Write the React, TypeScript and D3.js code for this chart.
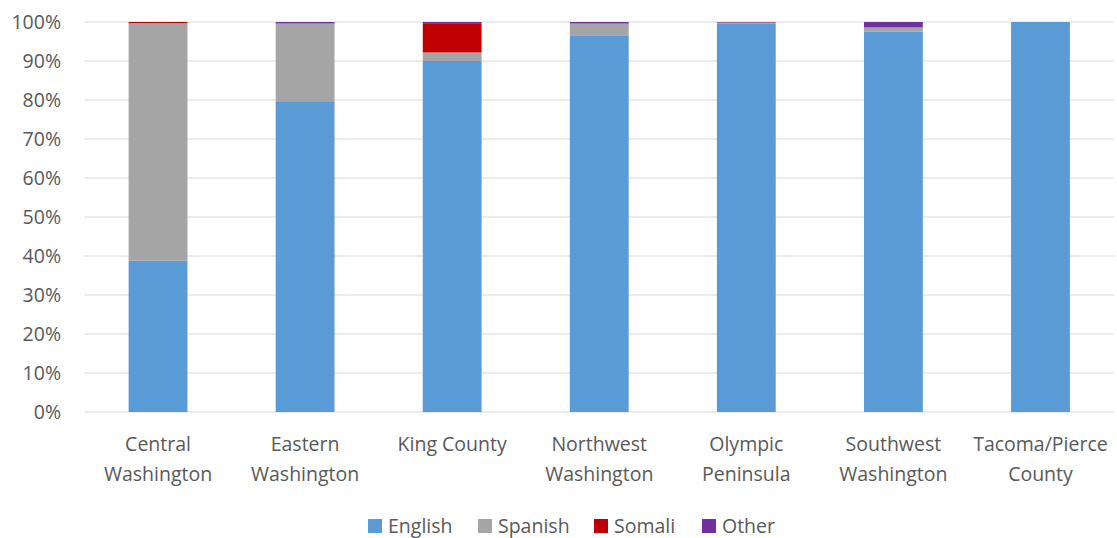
import React from "react";
import * as d3 from "d3";

const categories = [
  ["Central", "Washington"],
  ["Eastern", "Washington"],
  ["King County"],
  ["Northwest", "Washington"],
  ["Olympic", "Peninsula"],
  ["Southwest", "Washington"],
  ["Tacoma/Pierce", "County"],
];
const seriesNames = ["English", "Spanish", "Somali", "Other"];
const seriesColors = ["#5B9BD5", "#A5A5A5", "#C00000", "#7030A0"];
const english = [38.8, 79.7, 90.0, 96.6, 99.5, 97.5, 100];
const spanish = [60.9, 19.9, 2.2, 3.0, 0.3, 1.1, 0];
const somali = [0.3, 0.1, 7.5, 0, 0.1, 0, 0];
const other = [0, 0.3, 0.3, 0.4, 0.1, 1.4, 0];
const yTicks = [0, 10, 20, 30, 40, 50, 60, 70, 80, 90, 100];

const W = 1117;
const H = 538;
const M = { left: 84.5, right: 3, top: 22, bottom: 126 };
const FONT = "'Open Sans', sans-serif";
const TXT = "#595959";
const FS = 19.5;

export default function App() {
  const keys = categories.map((c) => c.join(" "));
  const rows = keys.map((k, i) => ({
    key: k,
    English: english[i],
    Spanish: spanish[i],
    Somali: somali[i],
    Other: other[i],
  }));
  const stacked = d3.stack<any>().keys(seriesNames)(rows);
  const x = d3
    .scaleBand<string>()
    .domain(keys)
    .range([M.left, W - M.right])
    .paddingInner(0.6)
    .paddingOuter(0.3);
  const y = d3.scaleLinear().domain([0, 100]).range([H - M.bottom, M.top]);

  const legendX = [368, 478, 594, 702];
  return (
    <svg
      width={W}
      height={H}
      style={{ position: "absolute", left: 0, top: 0, background: "#fff" }}
    >
      {yTicks.map((t) => (
        <g key={t}>
          <line
            x1={M.left}
            x2={W - M.right}
            y1={y(t)}
            y2={y(t)}
            stroke="#D9D9D9"
            strokeWidth={1}
          />
          <text
            x={61}
            y={y(t)}
            dy="0.35em"
            textAnchor="end"
            fontFamily={FONT}
            fontSize={FS}
            fill={TXT}
          >
            {t}%
          </text>
        </g>
      ))}
      {stacked.map((s, si) => (
        <g key={s.key} fill={seriesColors[si]}>
          {s.map((d, i) =>
            d[1] - d[0] > 0 ? (
              <rect
                key={i}
                x={x(keys[i])}
                width={x.bandwidth()}
                y={y(d[1])}
                height={y(d[0]) - y(d[1])}
              />
            ) : null
          )}
        </g>
      ))}
      {categories.map((c, i) => (
        <text
          key={i}
          x={(x(keys[i]) as number) + x.bandwidth() / 2}
          y={444}
          textAnchor="middle"
          fontFamily={FONT}
          fontSize={FS}
          fill={TXT}
        >
          {c.map((l, li) => (
            <tspan
              key={li}
              x={(x(keys[i]) as number) + x.bandwidth() / 2}
              dy={li === 0 ? "0.35em" : 30}
            >
              {l}
            </tspan>
          ))}
        </text>
      ))}
      {seriesNames.map((n, i) => (
        <g key={n}>
          <rect x={legendX[i]} y={519} width={14} height={14} fill={seriesColors[i]} />
          <text
            x={legendX[i] + 20}
            y={526}
            dy="0.35em"
            fontFamily={FONT}
            fontSize={FS}
            fill={TXT}
          >
            {n}
          </text>
        </g>
      ))}
    </svg>
  );
}
